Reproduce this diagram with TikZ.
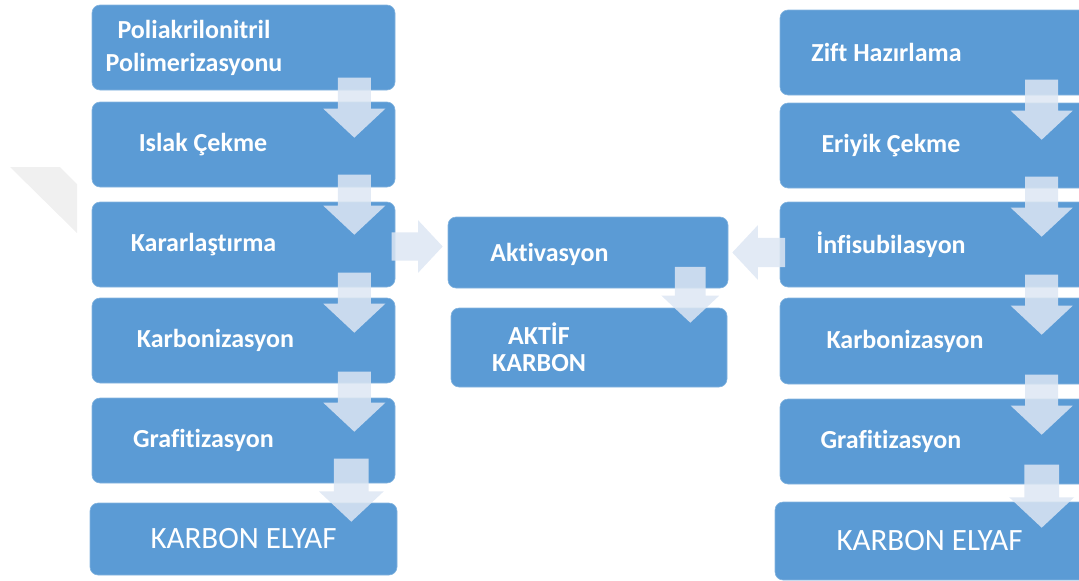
\documentclass[tikz,border=0pt]{standalone}
\usepackage{fontspec}
\setmainfont{Carlito}[Ligatures=NoCommon]
\usetikzlibrary{calc}
\definecolor{boxblue}{RGB}{91,155,213}
\definecolor{arrfill}{RGB}{221,230,243}
\tikzset{
  stepbox/.style={draw=boxblue!75!white, line width=0.6pt, fill=boxblue, rounded corners=8pt, inner sep=0pt},
  lbl/.style={text=white, align=center, font=\bfseries\fontsize{26}{33}\selectfont},
  bigl/.style={text=white, align=center, font=\fontsize{31}{36}\selectfont},
  barr/.style={fill=arrfill, fill opacity=0.85},
}
% block arrow: [scale]{tip}{angle}
\newcommand{\blockarr}[3][1]{%
  \begin{scope}[shift={#2}, rotate=#3, scale=#1]
    \fill[barr] (0,0) -- (-29,31) -- (-29,16.5) -- (-60,16.5) -- (-60,-16.5) -- (-29,-16.5) -- (-29,-31) -- cycle;
  \end{scope}}

\begin{document}
\begin{tikzpicture}[x=1pt, y=-1pt]
  \useasboundingbox (0,0) rectangle (1079,581);
  \clip (0,0) rectangle (1079,581);

  % ---- faint mark at the left edge ----
  \fill[black!6] (10,167) -- (60,167) -- (77,184) -- (77,233) -- cycle;

  % ---- PAN route ----
  \node[stepbox, minimum width=303pt, minimum height=85pt] (L1) at (243.5,47.5) {};
  \node[lbl] (L1t) at ([xshift=-49.5pt]L1.center) {Poliakrilonitril\\Polimerizasyonu};
  \node[stepbox, minimum width=303pt, minimum height=85pt] (L2) at (243.5,144.5) {};
  \node[lbl] (L2t) at ([xshift=-40.5pt]L2.center) {Islak Çekme};
  \node[stepbox, minimum width=303pt, minimum height=85pt] (L3) at (243.5,244.5) {};
  \node[lbl] (L3t) at ([xshift=-40pt]L3.center) {Kararlaştırma};
  \node[stepbox, minimum width=303pt, minimum height=85pt] (L4) at (243.5,340.5) {};
  \node[lbl] (L4t) at ([xshift=-28pt]L4.center) {Karbonizasyon};
  \node[stepbox, minimum width=303pt, minimum height=85pt] (L5) at (243.5,440.5) {};
  \node[lbl] (L5t) at ([xshift=-40pt]L5.center) {Grafitizasyon};
  \node[stepbox, minimum width=307pt, minimum height=72pt] (L6) at (243.5,539) {};
  \node[bigl] (L6t) at (L6.center) {KARBON ELYAF};

  % ---- activation ----
  \node[stepbox, minimum width=280pt, minimum height=71pt] (M1) at (588,252.5) {};
  \node[lbl] (M1t) at ([xshift=-38.5pt, yshift=-2pt]M1.center) {Aktivasyon};
  \node[stepbox, minimum width=276pt, minimum height=79pt] (M2) at (589,347.5) {};
  \node[lbl, font=\bfseries\fontsize{26}{27}\selectfont] (M2t) at ([xshift=-50pt]M2.center) {AKTİF\\KARBON};

  % ---- pitch route ----
  \node[stepbox, minimum width=315pt, minimum height=85pt] (R1) at (937.5,52.5) {};
  \node[lbl] (R1t) at ([xshift=-51pt]R1.center) {Zift Hazırlama};
  \node[stepbox, minimum width=315pt, minimum height=85pt] (R2) at (937.5,145.5) {};
  \node[lbl] (R2t) at ([xshift=-46.5pt]R2.center) {Eriyik Çekme};
  \node[stepbox, minimum width=315pt, minimum height=85pt] (R3) at (937.5,244.5) {};
  \node[lbl] (R3t) at ([xshift=-46.5pt]R3.center) {İnfisubilasyon};
  \node[stepbox, minimum width=315pt, minimum height=86pt] (R4) at (937.5,341) {};
  \node[lbl] (R4t) at ([xshift=-32.5pt]R4.center) {Karbonizasyon};
  \node[stepbox, minimum width=315pt, minimum height=85pt] (R5) at (937.5,441.5) {};
  \node[lbl] (R5t) at ([xshift=-46.5pt]R5.center) {Grafitizasyon};
  \node[stepbox, minimum width=320pt, minimum height=78pt] (R6) at (935,541) {};
  \node[bigl] (R6t) at ([xshift=-5.5pt]R6.center) {KARBON ELYAF};

  % ---- arrows ----
  \blockarr{($(L2.north east)+(-41,36)$)}{-90}
  \blockarr{($(L3.north east)+(-41,33)$)}{-90}
  \blockarr{($(L4.north east)+(-41,35)$)}{-90}
  \blockarr{($(L5.north east)+(-41,34)$)}{-90}
  \blockarr[1.05]{($(L6.north east)+(-46,19)$)}{-90}
  \blockarr{($(R2.north west)+(262,37)$)}{-90}
  \blockarr{($(R3.north west)+(262,35)$)}{-90}
  \blockarr{($(R4.north west)+(262,37)$)}{-90}
  \blockarr{($(R5.north west)+(262,36)$)}{-90}
  \blockarr[1.05]{($(R6.north west)+(267,26)$)}{-90}
  \blockarr[0.85]{($(M1.west)+(-5,-6)$)}{0}
  \blockarr[0.88]{($(M1.east)+(4,0)$)}{180}
  \blockarr[0.93]{($(M2.north east)+(-37,15)$)}{-90}
\end{tikzpicture}
\end{document}
